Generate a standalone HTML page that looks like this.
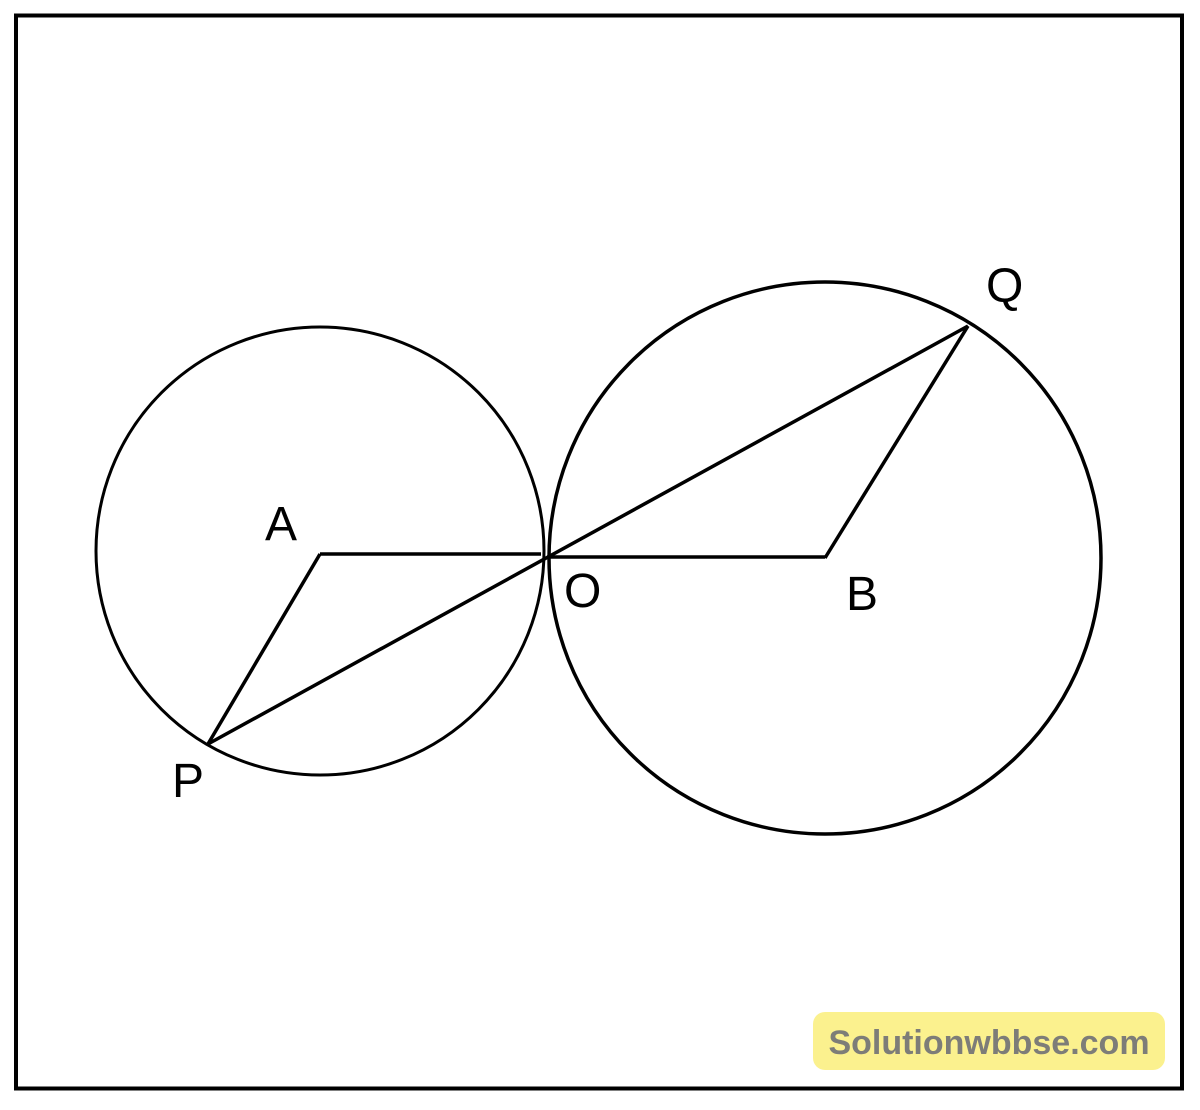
<!DOCTYPE html>
<html><head><style>body{margin:0;background:#fff}svg{display:block}</style></head>
<body>
<svg width="1200" height="1110" viewBox="0 0 1200 1110" xmlns="http://www.w3.org/2000/svg">
<rect x="16" y="15.5" width="1166" height="1073" fill="none" stroke="#000" stroke-width="4"/>
<ellipse cx="320" cy="551" rx="224" ry="224" fill="none" stroke="#000" stroke-width="3"/>
<ellipse cx="825" cy="558" rx="276" ry="276" fill="none" stroke="#000" stroke-width="3.5"/>
<g stroke="#000" stroke-width="3.5" fill="none">
<line x1="320" y1="554" x2="541" y2="554"/>
<line x1="547" y1="557" x2="825" y2="557"/>
<line x1="320" y1="554" x2="208" y2="744"/>
<line x1="208" y1="744" x2="968" y2="326"/>
<line x1="968" y1="326" x2="825" y2="558"/>
</g>
<g font-family="Liberation Sans, sans-serif" font-size="48" fill="#000">
<text x="265" y="540">A</text>
<text x="564" y="607">O</text>
<text x="846" y="610">B</text>
<text x="172" y="797">P</text>
<text x="986" y="302">Q</text>
</g>
<rect x="813" y="1012" width="352" height="58" rx="12" fill="#fbf18e"/>
<text x="989" y="1054" text-anchor="middle" font-family="Liberation Sans, sans-serif" font-weight="bold" font-size="34" fill="#7d7d78">Solutionwbbse.com</text>
</svg>
</body></html>
